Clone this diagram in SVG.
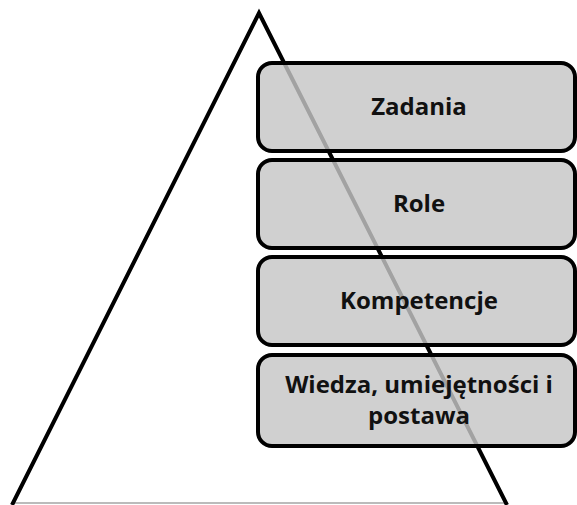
<svg xmlns="http://www.w3.org/2000/svg" width="577" height="505" viewBox="0 0 577 505">
<style>
.box{fill:#c6c6c6;fill-opacity:0.82;stroke:#000;stroke-width:4}
.lbl{font-family:"Open Sans","Liberation Sans",sans-serif;font-weight:bold;font-size:24px;fill:#111;text-anchor:middle}
</style>
<rect width="577" height="505" fill="#fff"/>
<g id="connectors">
<line x1="13" y1="503" x2="506" y2="503" stroke="#bbb" stroke-width="2"/>
<polyline points="12,505 259,13 507,505" fill="none" stroke="#000" stroke-width="4" stroke-linejoin="miter"/>
</g>
<g id="n1"><rect class="box" x="258" y="63" width="317" height="88" rx="14"/><text class="lbl" x="419" y="115">Zadania</text></g>
<g id="n2"><rect class="box" x="258" y="160" width="317" height="88" rx="14"/><text class="lbl" x="419" y="212">Role</text></g>
<g id="n3"><rect class="box" x="258" y="257" width="317" height="88" rx="14"/><text class="lbl" x="419" y="309">Kompetencje</text></g>
<g id="n4"><rect class="box" x="258" y="355" width="317" height="91" rx="14"/><text class="lbl" x="419" y="393">Wiedza, umiejętności i</text><text class="lbl" x="419" y="424">postawa</text></g>
</svg>
